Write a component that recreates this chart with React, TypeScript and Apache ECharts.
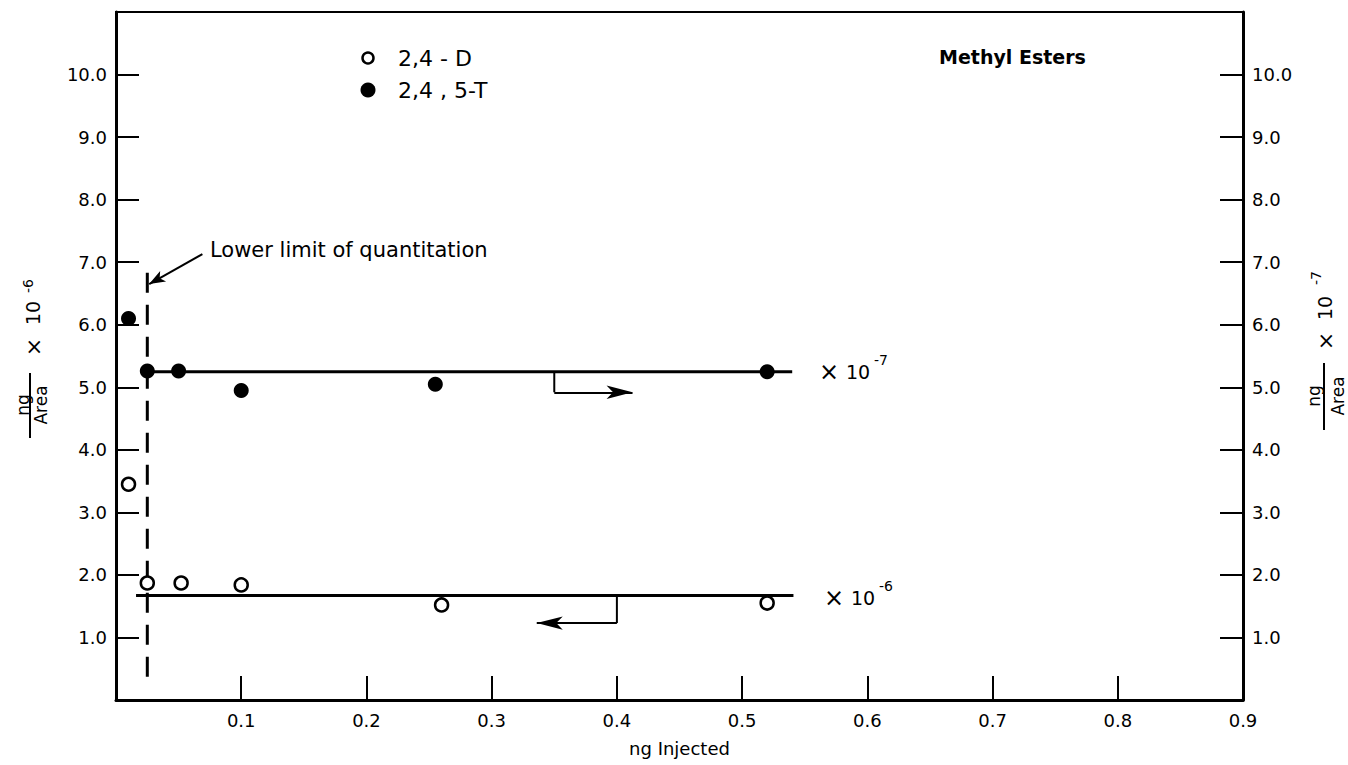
import React, { useEffect, useRef } from 'react';
import * as echarts from 'echarts';

const FONT = 'DejaVu Sans, Liberation Sans, sans-serif';

// Tick labels
const xTickLabels = ['', '0.1', '0.2', '0.3', '0.4', '0.5', '0.6', '0.7', '0.8', '0.9'];
const yTickLabels = ['', '1.0', '2.0', '3.0', '4.0', '5.0', '6.0', '7.0', '8.0', '9.0', '10.0', ''];

// Data: [ng injected, ng/Area]
const d24D = [
  [0.01, 3.45],
  [0.025, 1.87],
  [0.052, 1.87],
  [0.1, 1.84],
  [0.26, 1.52],
  [0.52, 1.55],
];
const d245T = [
  [0.01, 6.1],
  [0.025, 5.26],
  [0.05, 5.26],
  [0.1, 4.95],
  [0.255, 5.05],
  [0.52, 5.25],
];
const fit245T = [
  [0.022, 5.25],
  [0.54, 5.25],
];
const fit24D = [
  [0.016, 1.67],
  [0.541, 1.67],
];
const limitLine = [
  [0.025, 6.83],
  [0.025, 0.29],
];
const arrowRight = [
  [0.35, 5.25],
  [0.35, 4.92],
  [0.4125, 4.92],
];
const arrowLeft = [
  [0.4, 1.67],
  [0.4, 1.23],
  [0.336, 1.23],
];
const limitArrow = [
  [0.069, 7.13],
  [0.0265, 6.65],
];

const black = '#000';

function rotText(text: string, x: number, y: number, size: number) {
  return {
    type: 'text',
    x,
    y,
    rotation: Math.PI / 2,
    style: {
      text,
      align: 'center',
      verticalAlign: 'middle',
      fontSize: size,
      fontFamily: FONT,
      fill: black,
    },
  };
}

function hText(text: string, x: number, y: number, size: number, weight = 'normal') {
  return {
    type: 'text',
    x,
    y,
    style: {
      text,
      align: 'left',
      verticalAlign: 'middle',
      fontSize: size,
      fontFamily: FONT,
      fontWeight: weight,
      fill: black,
    },
  };
}

function arrowSeries(pts: number[][], yAxisIndex: number, head: number[]) {
  const n = pts.length;
  return {
    type: 'line',
    yAxisIndex,
    data: pts.slice(0, n - 1),
    symbol: 'none',
    showSymbol: false,
    silent: true,
    lineStyle: { color: black, width: 2 },
    markLine: {
      silent: true,
      symbol: ['none', 'arrow'],
      label: { show: false },
      lineStyle: { color: black, width: 2, type: 'solid' },
      emphasis: { disabled: true },
      data: [
        [
          { coord: pts[n - 2], symbol: 'none' },
          { coord: pts[n - 1], symbol: 'arrow', symbolSize: head },
        ],
      ],
    },
  };
}

export default function App() {
  const ref = useRef<HTMLDivElement>(null);

  useEffect(() => {
    if (!ref.current) return;
    const chart = echarts.init(ref.current, undefined, { renderer: 'svg' });

    const yAxisCommon = {
      type: 'value',
      min: 0,
      max: 11,
      interval: 1,
      splitLine: { show: false },
      axisLine: { show: true, lineStyle: { color: black, width: 3 } },
      axisTick: { show: true, inside: true, length: 23, lineStyle: { color: black, width: 2 } },
      axisLabel: {
        color: black,
        fontSize: 18,
        fontFamily: FONT,
        margin: 9,
        formatter: (v: number) => yTickLabels[Math.round(v)] ?? '',
      },
    };

    const option: any = {
      animation: false,
      backgroundColor: '#fff',
      grid: {
        left: 116,
        right: 105,
        top: 12,
        bottom: 65,
        show: true,
        borderColor: black,
        borderWidth: 2,
        backgroundColor: 'transparent',
        containLabel: false,
        outerBoundsMode: 'none',
      },
      xAxis: {
        type: 'value',
        min: 0,
        max: 0.9,
        interval: 0.1,
        name: 'ng Injected',
        nameLocation: 'middle',
        nameGap: 39,
        nameTextStyle: { color: black, fontSize: 18, fontFamily: FONT },
        splitLine: { show: false },
        axisLine: { show: true, onZero: false, lineStyle: { color: black, width: 3 } },
        axisTick: { show: true, inside: true, length: 24, lineStyle: { color: black, width: 2 } },
        axisLabel: {
          color: black,
          fontSize: 18,
          fontFamily: FONT,
          margin: 11,
          formatter: (v: number) => xTickLabels[Math.round(v * 10)] ?? '',
        },
      },
      yAxis: [
        { ...yAxisCommon, position: 'left' },
        { ...yAxisCommon, position: 'right' },
      ],
      series: [
        {
          name: 'Lower limit of quantitation',
          type: 'line',
          data: limitLine,
          symbol: 'none',
          showSymbol: false,
          silent: true,
          lineStyle: { color: black, width: 3, type: [20, 12] },
        },
        {
          name: 'fit 2,4,5-T',
          type: 'line',
          yAxisIndex: 1,
          data: fit245T,
          symbol: 'none',
          showSymbol: false,
          silent: true,
          lineStyle: { color: black, width: 3 },
        },
        {
          name: 'fit 2,4-D',
          type: 'line',
          data: fit24D,
          symbol: 'none',
          showSymbol: false,
          silent: true,
          lineStyle: { color: black, width: 3 },
        },
        arrowSeries(arrowRight, 1, [10, 26]),
        arrowSeries(arrowLeft, 0, [10, 26]),
        {
          type: 'line',
          data: [],
          silent: true,
          markLine: {
            silent: true,
            symbol: ['none', 'arrow'],
            label: { show: false },
            lineStyle: { color: black, width: 2, type: 'solid' },
            data: [
              [
                { coord: limitArrow[0], symbol: 'none' },
                { coord: limitArrow[1], symbol: 'arrow', symbolSize: [9, 16] },
              ],
            ],
          },
        },
        {
          name: '2,4 - D',
          type: 'scatter',
          data: d24D,
          symbol: 'circle',
          symbolSize: 13,
          itemStyle: { color: '#fff', borderColor: black, borderWidth: 2.5, opacity: 1 },
          z: 5,
        },
        {
          name: '2,4 , 5-T',
          type: 'scatter',
          yAxisIndex: 1,
          data: d245T,
          symbol: 'circle',
          symbolSize: 15,
          itemStyle: { color: black, opacity: 1 },
          z: 5,
        },
      ],
      graphic: [
        // legend
        { type: 'circle', shape: { cx: 368, cy: 58, r: 5.5 }, style: { fill: '#fff', stroke: black, lineWidth: 2.5 } },
        hText('2,4 - D', 398, 58, 22),
        { type: 'circle', shape: { cx: 368, cy: 90, r: 7.5 }, style: { fill: black } },
        hText('2,4 , 5-T', 398, 90, 22),
        hText('Methyl Esters', 939, 57, 19, 'bold'),
        hText('Lower limit of quantitation', 210, 250, 21),
        // scale labels
        hText('×', 819, 372, 24),
        hText('10', 846, 372, 19),
        hText('-7', 874, 360, 14),
        hText('×', 824, 598, 24),
        hText('10', 851, 598, 19),
        hText('-6', 879, 586, 14),
        // left axis title
        rotText('ng', 23, 405, 17),
        { type: 'line', shape: { x1: 30, y1: 373, x2: 30, y2: 438 }, style: { stroke: black, lineWidth: 2 } },
        rotText('Area', 41, 405, 17),
        rotText('×', 33, 347, 22),
        rotText('10', 33, 313, 19),
        rotText('-6', 28, 286, 14),
        // right axis title
        rotText('ng', 1314, 396, 17),
        { type: 'line', shape: { x1: 1324, y1: 363, x2: 1324, y2: 430 }, style: { stroke: black, lineWidth: 2 } },
        rotText('Area', 1338, 396, 17),
        rotText('×', 1325, 341, 22),
        rotText('10', 1325, 308, 19),
        rotText('-7', 1316, 278, 14),
      ],
    };

    chart.setOption(option);
    return () => chart.dispose();
  }, []);

  return (
    <div
      ref={ref}
      style={{ position: 'fixed', left: 0, top: 0, width: 1348, height: 765, background: '#fff' }}
    />
  );
}
